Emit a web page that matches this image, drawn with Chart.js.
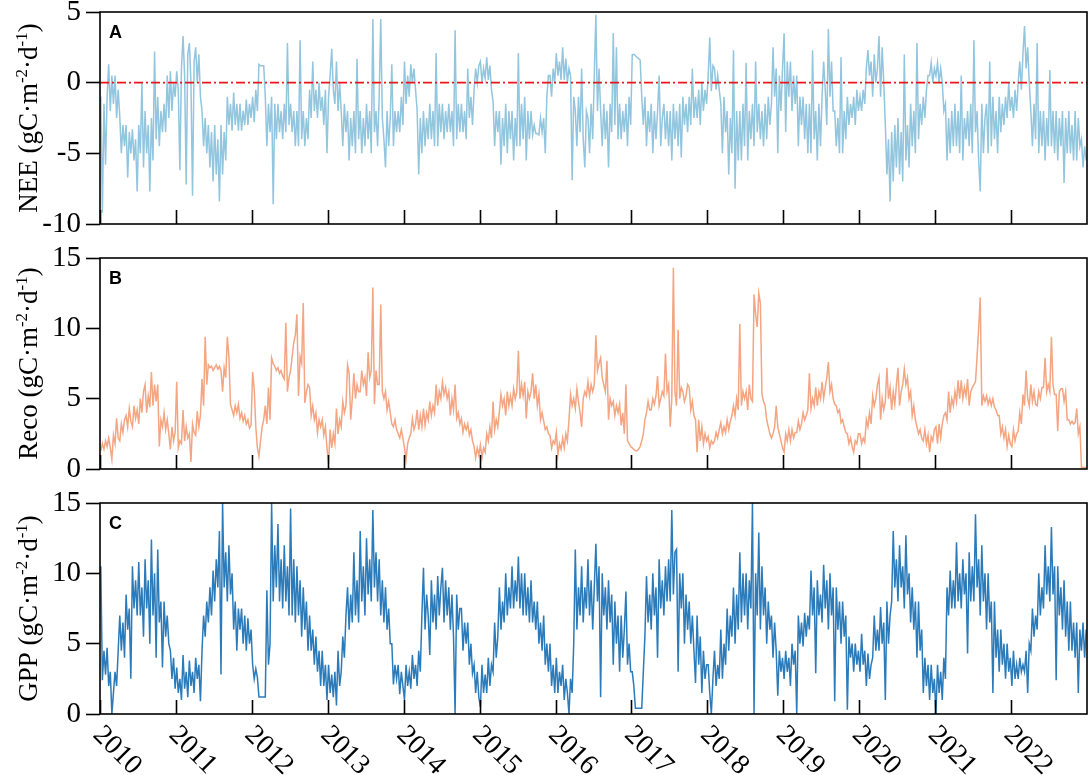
<!DOCTYPE html>
<html>
<head>
<meta charset="utf-8">
<script src="https://cdn.jsdelivr.net/npm/chart.js@4.4.1/dist/chart.umd.min.js"></script>
<style>
  body { margin: 0; background: #fff; }
  #wrap { position: relative; width: 1092px; height: 775px; overflow: hidden; background: #fff; }
  canvas { position: absolute; left: 0; }
</style>
</head>
<body>
<div id="wrap">
  <canvas id="panelA"></canvas>
  <canvas id="panelB"></canvas>
  <canvas id="panelC"></canvas>
</div>
<script>
// Time grid: four readings per month, Jan 2010 .. Dec 2022
const startYear = 2010;
const endYear = 2023;
const samplesPerYear = 48;
const yearTicks = [2010, 2011, 2012, 2013, 2014, 2015, 2016, 2017, 2018, 2019, 2020, 2021, 2022];

const panelLetters = ['A', 'B', 'C'];
const panelTitles = ['NEE', 'Reco', 'GPP'];

// NEE (gC m-2 d-1), one line per year
const neeValues = [
  -1.0,-9.2,-1.5,-5.8, -1.0,1.3,-2.0,0.5, -1.5,0.5,-2.5,-0.5, -2.4,-5.0,-3.0,-4.5, -3.0,-6.7,-3.5,-5.0, -3.3,-5.5,-4.0,-7.7, -3.0,-5.0,0.0,-6.0, -2.0,-5.0,-3.0,-7.7, -2.5,-5.5,2.2,-4.0, -1.0,-4.5,-2.0,-3.5, -1.5,-3.5,0.5,-2.5, 0.8,-2.0,0.0,-1.0,
  0.8,-0.5,-6.2,1.0, 3.3,0.5,-7.2,2.0, 2.8,0.0,-8.0,1.5, 2.5,0.0,2.0,-1.0, -2.0,-4.5,-2.5,-5.0, -3.0,-6.0,-3.5,-7.0, -3.0,-6.5,-4.0,-8.4, -3.0,-6.5,-3.5,-5.5, -1.0,-3.0,-1.5,-3.4, -0.7,-3.0,-1.5,-3.4, -1.5,-3.4,-2.0,-3.0, -1.2,-3.0,-1.5,-2.5,
  -1.0,-2.8,-0.5,-2.0, 1.3,1.2,1.2,1.2, -1.0,-4.5,-1.5,-3.5, -1.0,-8.6,-1.5,-4.0, -1.5,-3.5,-2.0,-4.0, -1.5,-3.5,2.8,-3.0, -1.5,-3.5,-2.0,-4.5, -2.0,-4.5,3.0,-4.0, -2.0,-4.5,-2.5,-4.0, -0.5,-2.5,1.5,-2.0, -0.5,-2.5,0.0,-2.0, -1.0,-3.0,-0.5,-5.0,
  -1.0,0.5,2.4,-0.5, -1.5,1.5,-2.0,0.0, -2.0,-4.5,-1.5,-3.5, -2.0,-5.5,-2.5,-4.5, -2.0,-5.0,1.7,-4.0, -2.0,-5.0,-2.5,-4.5, -1.5,-4.0,-2.0,-5.0, 4.5,-3.5,-2.0,-4.5, -1.0,4.5,-2.5,-4.0, -6.0,-2.0,-4.5,-2.5, 1.3,-4.5,-2.0,-3.5, -2.0,-3.5,-1.0,-3.0,
  1.5,-1.5,0.5,-1.0, 1.3,0.0,1.0,-0.5, -2.0,-6.5,-2.5,-5.0, -2.0,-4.5,-2.5,-4.0, -1.5,-4.0,-2.0,-4.5, 2.1,-4.5,-1.5,-3.5, -1.5,-4.0,-2.0,-3.5, -1.5,-3.5,-2.0,-4.5, 3.7,-4.0,-1.5,-3.5, -1.5,-3.5,-2.0,-4.0, 1.0,-2.5,-1.0,-3.0, -0.5,1.0,0.0,1.2,
  1.5,0.0,1.0,0.3, 1.8,0.2,1.2,-0.5, -1.3,-4.5,-2.0,-3.5, -2.0,-5.8,-2.5,-4.5, -1.5,-5.0,-2.0,-4.0, -2.0,-5.5,-2.5,-4.5, 2.1,-4.5,-1.5,-4.0, -1.0,-5.5,-2.0,-4.0, -2.0,-3.7,-3.0,-3.6, -3.6,-3.7,-2.5,-3.5, -2.5,-5.0,-1.0,0.5, 0.5,-1.0,1.0,0.0,
  2.1,0.5,1.5,0.2, 2.5,0.2,1.7,0.0, 1.0,0.5,-6.9,-1.0, -2.0,-4.5,-1.0,-3.5, 1.0,-4.0,-6.0,-2.0, -2.5,-5.0,-1.5,-4.0, 0.5,4.8,-2.0,1.0, -2.0,-4.5,-1.5,-4.0, -2.0,-6.0,-1.5,-3.5, 3.5,-3.0,2.5,-4.0, -1.5,-4.0,-2.0,-3.5, -1.5,-4.5,-1.0,-3.0,
  2.0,2.0,1.9,1.8, 1.7,1.6,-1.0,-3.0, -1.0,-4.5,-2.0,-3.5, -1.5,-5.0,-2.0,-4.0, -2.0,0.5,-4.5,-2.5, -1.5,-4.0,-2.0,-4.5, -2.0,-5.5,-1.5,-4.0, -2.0,-4.5,-1.5,-5.3, -1.0,-3.0,-1.5,-3.5, -1.0,-3.0,1.0,-2.5, -1.0,-2.5,-0.5,-3.0, 0.0,-2.0,-0.5,-1.5,
  0.5,3.2,-0.6,1.2, 1.0,-0.5,0.5,-0.5, -1.5,-5.0,-1.0,-3.5, -2.0,-6.5,-2.5,-5.0, 2.3,-7.5,-2.0,-5.5, -2.0,-5.5,-1.5,-4.5, 1.4,-5.5,-2.0,-4.0, -1.5,-4.5,1.5,-3.5, -1.5,-4.0,-2.0,-4.5, -1.5,-4.0,-1.0,-3.0, -1.5,2.5,-1.0,1.0, -5.0,0.5,-2.0,1.0,
  3.5,-3.5,1.5,-1.0, 1.5,-2.0,0.5,-1.5, 0.5,-4.5,-1.0,-3.0, -1.0,-4.0,-1.5,-5.0, -1.5,-5.0,2.3,-4.0, -2.0,-5.5,-1.5,-4.5, -1.0,1.5,-0.5,-3.0, 3.8,-1.0,1.5,-2.0, -2.0,-4.5,-2.5,-5.0, 1.8,-5.0,-2.0,-4.0, -1.0,-3.0,-1.5,-2.5, -1.0,-3.0,-0.5,-2.0,
  -1.0,-2.0,-0.5,-1.5, 1.0,2.3,0.5,1.5, -1.0,2.0,0.0,1.0, 3.3,-1.0,2.5,0.0, -3.0,-6.5,-4.0,-8.4, -3.5,-7.0,-3.0,-6.0, -2.5,-6.5,-3.5,-7.0, 2.0,-5.5,-3.0,-6.0, -1.5,-4.5,-2.0,-5.0, 2.8,-4.0,-1.5,-3.0, -1.0,-2.5,-0.5,0.5, 0.5,1.4,0.0,1.0,
  0.5,1.4,0.0,1.0, 0.0,-2.0,-1.5,-5.5, -2.5,-5.0,-2.0,-4.5, -1.5,-4.5,-2.0,-5.0, 0.5,-5.5,-2.5,-4.0, -2.0,-4.5,-1.5,-5.0, 3.0,-3.5,-2.0,-5.5, -7.7,-1.5,-5.0,-2.5, -1.5,-5.0,1.5,-4.5, -1.0,-4.0,-2.0,-5.0, -1.0,-3.5,-1.5,-3.0, -1.0,-2.5,0.0,-2.0,
  -1.0,-2.5,-0.5,-2.0, 0.0,1.5,-0.5,2.0, 4.0,1.0,2.5,0.0, -2.0,-4.5,-1.5,-4.0, 2.8,-5.0,-2.0,-4.5, -2.0,-5.5,-2.5,-4.5, 0.9,-4.5,-2.0,-5.0, -2.0,-5.5,-2.5,-4.5, -2.0,-7.1,-2.5,-5.0, -2.0,-5.0,-3.0,-5.5, -2.0,-5.5,-2.5,-4.5, -4.0,-6.0,-4.5,-5.5
];

// Reco (gC m-2 d-1), one line per year
const recoValues = [
  1.3,1.8,1.4,2.0, 1.6,2.2,1.5,0.7, 2.4,1.8,3.6,2.2, 2.0,3.2,2.6,3.5, 3.8,3.0,4.3,3.4, 3.0,4.5,3.6,4.2, 3.2,5.0,4.0,5.5, 6.0,4.0,5.2,4.4, 6.9,4.5,6.0,4.8, 6.0,1.6,3.5,3.0, 4.0,2.8,3.5,2.5, 1.4,3.0,2.0,2.6,
  6.2,1.5,2.0,1.8, 4.2,2.0,3.0,2.2, 2.5,0.5,3.2,2.6, 2.4,4.1,3.0,3.8, 6.4,4.5,9.4,6.0, 7.4,7.2,7.3,7.0, 7.2,7.4,7.1,7.3, 7.0,5.5,7.2,6.5, 9.4,8.0,4.6,4.2, 3.8,4.5,4.0,4.6, 3.6,4.0,3.4,3.8, 3.2,3.5,2.9,3.1,
  6.9,5.7,3.0,1.5, 0.9,2.0,3.0,3.5, 4.5,3.2,5.8,3.5, 7.9,7.5,7.3,7.0, 7.2,6.8,7.0,6.6, 6.4,10.4,5.5,6.5, 7.0,8.0,9.0,9.5, 11.0,5.2,8.0,7.5, 11.8,4.7,5.5,6.0, 5.8,3.8,4.5,3.5, 4.0,2.6,3.5,3.0, 3.5,2.4,3.0,1.5,
  0.4,2.8,1.5,2.5, 1.8,4.3,2.5,3.5, 3.0,4.8,4.0,4.5, 7.4,6.8,3.5,5.0, 6.8,5.0,6.0,5.5, 5.5,7.0,6.0,6.5, 5.2,8.3,6.5,7.0, 12.9,4.6,7.0,6.0, 6.0,11.7,5.5,5.0, 5.5,4.2,4.8,4.0, 3.2,3.0,3.5,2.8, 2.5,2.2,2.8,2.2,
  1.5,0.7,1.8,2.2, 2.5,3.6,2.8,3.2, 4.2,2.8,3.8,3.0, 4.3,3.1,4.0,3.5, 4.8,3.8,4.5,4.0, 6.0,4.5,5.5,5.0, 6.2,5.3,5.8,5.0, 5.5,3.8,5.0,4.2, 6.0,3.6,4.0,3.2, 3.6,2.6,3.2,2.8, 3.2,2.4,2.8,2.0, 1.6,0.8,1.5,1.0,
  1.7,0.8,1.5,1.2, 2.5,2.0,3.0,2.2, 4.8,2.8,3.5,3.0, 4.1,5.3,4.5,5.0, 3.8,5.5,4.5,5.2, 4.5,5.7,5.0,5.5, 8.4,5.0,6.0,5.2, 6.2,3.6,5.5,5.0, 5.5,6.8,5.0,6.0, 4.5,5.3,3.5,4.0, 3.4,2.8,3.0,2.5, 2.4,1.5,2.0,1.8,
  2.6,1.0,1.8,1.4, 2.2,1.5,2.5,2.0, 3.5,5.3,4.5,5.0, 4.3,5.7,4.8,4.0, 3.0,5.0,5.5,5.2, 6.2,5.2,6.0,5.5, 6.0,9.5,7.0,7.5, 7.9,6.5,6.0,5.5, 7.7,3.5,5.0,4.5, 4.8,3.8,4.5,4.0, 4.6,3.1,4.0,2.5, 6.0,2.0,1.8,1.6,
  1.5,1.4,1.3,1.3, 1.4,1.6,2.0,2.5, 3.5,4.0,4.8,4.2, 4.2,5.0,4.6,5.2, 6.6,4.5,5.0,5.5, 5.2,8.2,5.5,6.0, 3.0,5.0,14.3,5.5, 4.5,9.9,5.0,5.8, 5.5,4.8,5.2,6.0, 5.8,4.2,4.8,3.8, 3.5,1.2,3.5,2.0, 3.0,1.8,2.5,2.0,
  2.3,1.5,2.0,1.8, 2.0,2.6,2.2,2.8, 3.3,2.5,3.0,2.6, 3.5,2.8,3.4,3.8, 4.5,3.8,5.0,4.2, 10.3,4.5,5.5,5.0, 5.5,4.2,6.0,5.0, 4.8,12.4,11.0,10.1, 12.5,11.8,5.3,4.8, 4.5,3.5,3.0,2.5, 2.2,2.5,3.0,4.5, 3.0,2.5,2.0,1.5,
  1.2,2.5,2.0,2.8, 2.0,2.8,2.2,2.6, 2.6,3.4,2.8,3.2, 4.0,3.5,3.8,4.2, 6.8,4.3,5.0,4.5, 5.8,4.5,5.5,5.0, 6.2,5.0,5.8,6.5, 7.6,5.5,6.0,5.0, 4.6,4.5,4.0,4.2, 3.3,3.5,3.0,2.6, 2.5,1.8,2.2,1.6, 1.2,2.0,1.8,2.5,
  2.5,1.8,2.2,1.9, 3.5,3.0,4.0,3.2, 5.2,4.5,5.0,6.0, 6.5,3.5,5.0,4.2, 4.8,7.2,5.0,5.8, 4.2,5.5,4.6,6.0, 7.2,4.5,5.5,6.0, 7.1,6.0,6.5,5.0, 5.5,3.8,4.5,3.5, 3.0,2.5,2.8,2.2, 2.0,2.8,1.8,2.4, 1.2,2.3,2.0,2.8,
  3.0,1.8,3.2,2.2, 3.2,3.8,4.0,3.5, 5.5,4.0,5.0,4.5, 5.5,4.8,6.3,5.0, 6.3,5.0,5.8,5.2, 6.4,4.5,5.5,5.8, 6.0,6.2,8.0,10.0, 12.2,4.5,5.2,4.8, 5.2,4.6,5.0,4.5, 5.0,4.4,4.2,3.8, 3.8,2.5,3.0,2.2, 2.8,1.6,2.4,1.8,
  1.6,2.8,2.0,2.5, 2.7,4.0,3.2,5.3, 4.5,7.0,5.0,4.5, 6.0,4.8,5.5,4.6, 4.5,5.5,5.0,5.8, 5.8,7.9,5.5,6.0, 5.5,9.4,6.0,5.3, 5.3,2.7,5.5,5.7, 5.7,4.8,5.5,3.5, 3.5,3.2,3.4,3.2, 3.3,4.3,2.5,3.0, 0.1,0.1,0.1,0.1
];

// GPP (gC m-2 d-1), one line per year
const gppValues = [
  10.5,2.4,4.5,2.8, 4.7,2.0,3.0,0.0, 1.5,3.0,2.0,4.5, 7.0,4.5,6.5,4.0, 8.5,6.0,7.5,2.5, 10.5,7.5,9.5,7.0, 10.8,7.0,9.0,5.5, 11.0,7.5,9.5,5.0, 12.4,7.0,10.0,4.0, 11.7,6.5,8.0,3.3, 8.0,5.5,7.0,5.0, 4.5,2.5,4.0,1.8,
  3.3,1.5,2.5,1.0, 4.2,1.8,3.0,1.2, 3.8,2.0,3.0,1.5, 4.0,2.5,3.5,0.9, 4.5,7.0,5.5,8.0, 6.5,9.0,7.0,10.2, 8.0,11.0,9.0,13.0, 2.8,15.0,9.0,11.5, 8.0,12.0,8.5,10.0, 6.0,8.0,4.5,7.5, 6.0,7.5,5.0,7.0, 4.5,6.8,5.0,6.0,
  3.5,2.5,3.2,2.6, 1.2,1.2,1.2,1.2, 1.2,8.8,3.5,5.0, 15.0,8.0,12.0,9.0, 13.5,8.0,11.0,7.5, 12.0,8.0,10.5,7.0, 14.6,7.0,11.0,6.5, 10.5,7.0,9.5,5.5, 9.0,6.0,8.0,4.5, 7.0,4.5,6.0,3.5, 5.5,3.0,4.5,2.0, 4.5,2.0,3.5,1.0,
  3.5,1.5,2.8,1.2, 3.0,0.6,4.5,2.0, 3.0,5.5,4.0,7.0, 9.0,6.0,8.5,6.5, 11.5,7.0,9.5,6.5, 13.0,8.0,10.5,7.0, 12.5,8.5,11.0,8.0, 14.5,9.0,11.5,8.0, 11.0,7.0,9.5,6.5, 9.0,6.0,7.5,5.0, 5.0,2.1,3.5,2.5, 3.5,1.4,3.0,2.0,
  1.0,3.5,2.0,3.0, 1.8,4.2,2.5,3.5, 2.0,4.5,3.0,7.0, 10.4,6.0,8.5,7.0, 4.2,9.5,6.5,8.5, 6.0,9.8,7.0,9.0, 10.4,6.5,9.5,7.0, 9.0,6.0,8.5,5.5, 0.0,8.5,6.0,7.5, 7.5,4.5,6.5,5.0, 6.5,3.5,5.0,2.9, 3.5,1.5,3.0,1.2,
  0.5,3.5,1.5,2.8, 1.5,4.0,2.0,3.5, 3.0,6.5,4.0,5.5, 9.0,6.0,8.0,6.5, 10.0,7.0,9.0,7.5, 10.5,7.5,9.5,8.0, 11.2,7.5,10.0,7.0, 10.0,7.0,9.0,6.5, 9.5,6.5,8.0,6.0, 8.0,5.0,6.5,4.5, 7.0,3.5,5.0,3.0, 5.0,2.0,3.5,1.5,
  4.0,1.5,3.0,2.0, 3.5,1.0,2.5,1.5, 0.0,2.5,1.5,5.0, 11.7,6.0,9.0,7.0, 10.5,6.5,9.0,7.5, 11.0,7.0,9.5,6.0, 9.0,12.1,8.0,10.5, 1.2,10.0,7.0,9.0, 6.0,9.5,6.5,8.5, 3.5,8.0,5.0,7.0, 3.0,7.0,4.0,6.0, 8.7,3.5,5.0,3.0,
  3.0,2.0,0.4,0.4, 0.4,0.4,0.4,3.0, 5.5,9.8,6.5,8.5, 6.0,10.0,7.0,9.0, 4.0,11.0,7.5,9.5, 7.0,10.5,8.0,11.0, 8.0,14.5,8.5,11.5, 11.7,3.0,10.0,7.5, 10.0,5.0,8.5,6.0, 8.0,5.0,7.0,4.5, 2.2,7.0,3.5,5.5, 1.5,4.5,2.5,3.5,
  3.5,1.5,0.0,2.5, 4.5,2.0,3.5,2.5, 6.0,2.5,5.0,3.5, 7.5,4.5,7.0,5.5, 9.0,5.0,8.5,6.0, 11.5,6.5,10.0,7.0, 10.0,6.0,9.5,7.5, 15.0,0.0,10.0,7.0, 12.9,6.0,10.5,7.0, 9.0,5.0,8.0,6.0, 7.0,4.0,6.5,4.5, 1.3,4.5,3.0,4.0,
  2.5,4.5,3.0,4.0, 2.0,5.0,3.5,4.5, 0.0,7.0,5.0,6.5, 4.8,7.2,5.5,7.0, 6.0,10.2,7.0,9.0, 2.9,9.5,7.0,8.5, 6.5,10.6,7.5,9.5, 6.0,10.0,7.0,9.0, 0.9,9.0,6.0,8.0, 5.0,8.0,5.5,7.0, 0.3,5.5,4.0,5.0, 3.0,5.0,3.5,4.5,
  3.0,5.7,3.5,4.5, 2.0,4.3,2.5,3.5, 4.0,7.0,4.5,6.0, 4.5,7.6,5.0,6.5, 1.0,8.0,5.0,7.0, 8.0,13.0,9.0,11.0, 8.0,12.0,9.0,10.5, 7.5,12.7,8.5,10.0, 6.5,9.0,6.0,8.0, 4.0,8.0,4.5,6.0, 1.5,4.0,2.0,3.5, 1.0,3.5,1.5,2.5,
  0.0,3.5,1.5,3.0, 1.0,4.0,2.5,9.0, 7.0,10.2,7.5,9.5, 7.5,12.2,8.0,10.0, 7.5,11.0,8.5,10.0, 4.3,11.5,8.0,10.5, 8.0,14.2,9.0,11.0, 7.0,12.0,8.0,10.0, 6.0,10.0,6.5,8.0, 1.5,8.0,4.0,6.0, 3.0,6.0,3.5,5.0, 2.5,5.0,3.0,4.0,
  2.0,4.5,2.5,3.5, 2.5,4.0,3.0,3.5, 3.0,4.5,1.5,5.0, 4.5,7.5,5.5,7.0, 6.0,10.0,7.0,9.0, 7.5,12.0,8.5,10.5, 8.0,13.3,8.5,10.5, 2.4,10.5,7.0,9.0, 6.0,9.5,5.5,8.0, 4.5,8.0,4.5,6.5, 4.0,6.5,1.5,6.0, 4.5,6.5,4.0,6.0
];

const zeroLine = [0, 0];

const serif = '"Liberation Serif", "Times New Roman", serif';

function toPoints(values) {
  return values.map((v, i) => ({ x: startYear + (i + 0.5) / samplesPerYear, y: v }));
}

// Frame, inward year ticks, panel letter, y title and (bottom panel) year labels
const panelDecor = {
  id: 'panelDecor',
  afterDatasetsDraw(chart, args, opts) {
    const ctx = chart.ctx;
    const a = chart.chartArea;
    const xs = chart.scales.x;
    ctx.save();

    ctx.strokeStyle = '#000';
    ctx.lineWidth = 1.6;
    ctx.strokeRect(a.left, a.top, a.right - a.left, a.bottom - a.top);

    ctx.beginPath();
    yearTicks.forEach(yr => {
      const px = Math.round(xs.getPixelForValue(yr)) + 0.5;
      ctx.moveTo(px, a.bottom);
      ctx.lineTo(px, a.bottom - 14);
    });
    ctx.stroke();

    ctx.fillStyle = '#000';
    ctx.textAlign = 'left';
    ctx.textBaseline = 'alphabetic';
    ctx.font = 'bold 18px "Liberation Sans", Arial, sans-serif';
    ctx.fillText(opts.letter, a.left + 9, a.top + 26);

    // y title with raised exponents
    const size = 27;
    const mainFont = size + 'px ' + serif;
    const supFont = Math.round(size * 0.62) + 'px ' + serif;
    const parts = [[opts.title + ' (gC\u00b7m', false], ['-2', true], ['\u00b7d', false], ['-1', true], [')', false]];
    let total = 0;
    parts.forEach(p => { ctx.font = p[1] ? supFont : mainFont; total += ctx.measureText(p[0]).width; });
    ctx.save();
    ctx.translate(37, (a.top + a.bottom) / 2);
    ctx.rotate(-Math.PI / 2);
    let cx = -total / 2;
    parts.forEach(p => {
      ctx.font = p[1] ? supFont : mainFont;
      ctx.fillText(p[0], cx, p[1] ? -size * 0.38 : 0);
      cx += ctx.measureText(p[0]).width;
    });
    ctx.restore();

    if (opts.showYears) {
      ctx.font = '28px ' + serif;
      yearTicks.forEach(yr => {
        const px = xs.getPixelForValue(yr);
        ctx.save();
        ctx.translate(px - 8, a.bottom + 22);
        ctx.rotate(Math.PI / 4);
        ctx.fillText(String(yr), 0, 0);
        ctx.restore();
      });
    }
    ctx.restore();
  }
};

function makePanel(id, plotTop, plotBottom, bottomPad, yMin, yMax, datasets, decor) {
  const padTop = 30;
  const canvas = document.getElementById(id);
  const h = plotBottom - plotTop + padTop + bottomPad;
  canvas.width = 1092;
  canvas.height = h;
  canvas.style.width = '1092px';
  canvas.style.height = h + 'px';
  canvas.style.top = (plotTop - padTop) + 'px';
  return new Chart(canvas, {
    type: 'line',
    data: { datasets: datasets },
    options: {
      responsive: false,
      animation: false,
      devicePixelRatio: 1,
      layout: { padding: { top: padTop, bottom: bottomPad, left: 0, right: 5 } },
      elements: { point: { radius: 0 }, line: { tension: 0 } },
      plugins: {
        legend: { display: false },
        tooltip: { enabled: false },
        panelDecor: decor
      },
      scales: {
        x: { type: 'linear', display: false, min: startYear, max: endYear },
        y: {
          min: yMin,
          max: yMax,
          ticks: { stepSize: 5, color: '#000', padding: 5, font: { family: serif, size: 29, lineHeight: 1 } },
          grid: { drawOnChartArea: false, drawTicks: true, tickLength: 14, tickWidth: 1.6, tickColor: '#000' },
          border: { display: false },
          afterFit(scale) { scale.width = 100; }
        }
      }
    },
    plugins: [panelDecor]
  });
}

makePanel('panelA', 12, 224, 30, -10, 5, [
  {
    data: [{ x: startYear, y: zeroLine[0] }, { x: endYear, y: zeroLine[1] }],
    borderColor: '#e8161b', borderWidth: 1.6, borderDash: [9, 3, 2, 3], order: 0
  },
  { data: toPoints(neeValues), borderColor: '#92c5de', borderWidth: 1.5, order: 1 }
], { letter: panelLetters[0], title: panelTitles[0], showYears: false });

makePanel('panelB', 258, 469, 30, 0, 15, [
  { data: toPoints(recoValues), borderColor: '#f4a582', borderWidth: 1.5 }
], { letter: panelLetters[1], title: panelTitles[1], showYears: false });

makePanel('panelC', 503, 714, 61, 0, 15, [
  { data: toPoints(gppValues), borderColor: '#2b7bba', borderWidth: 1.5 }
], { letter: panelLetters[2], title: panelTitles[2], showYears: true });
</script>
</body>
</html>
